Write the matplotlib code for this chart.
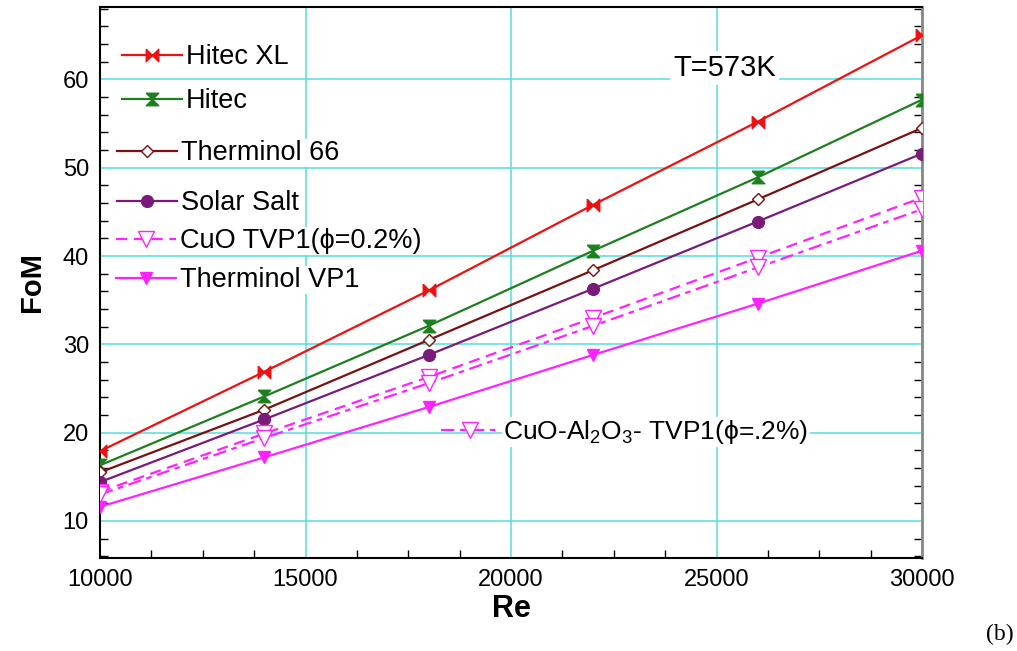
import numpy as np
import matplotlib
matplotlib.use("Agg")
from matplotlib import pyplot as plt
from matplotlib.ticker import MultipleLocator

plt.rcParams['font.family'] = ['Liberation Sans', 'DejaVu Sans']
plt.rcParams['mathtext.fontset'] = 'custom'
plt.rcParams['mathtext.rm'] = 'Liberation Sans'
plt.rcParams['mathtext.it'] = 'Liberation Sans:italic'
plt.rcParams['mathtext.default'] = 'regular'

# data (T = 573 K)
re = [10000, 14000, 18000, 22000, 26000, 30000]
hitec_xl = [17.9, 26.9, 36.1, 45.8, 55.2, 65.0]
hitec = [16.3, 24.1, 32.1, 40.6, 48.9, 57.7]
therminol_66 = [15.5, 22.6, 30.5, 38.4, 46.4, 54.5]
solar_salt = [14.4, 21.5, 28.8, 36.3, 43.9, 51.6]
cuo_tvp1 = [13.3, 19.9, 26.3, 33.0, 39.8, 46.6]
cuo_al2o3_tvp1 = [13.0, 19.4, 25.6, 32.1, 38.7, 45.3]
therminol_vp1 = [11.6, 17.2, 22.9, 28.8, 34.6, 40.6]

# custom markers
bowtie = [(-1, 1), (0, 0), (1, 1), (1, -1), (0, 0), (-1, -1), (-1, 1)]
hourglass = [(-1, 1), (1, 1), (0, 0), (1, -1), (-1, -1), (0, 0), (-1, 1)]

RED = '#ee1111'
GREEN = '#1e7f1e'
MAROON = '#7a1010'
PURPLE = '#7a1a7a'
MAG = '#ff22ff'

fig = plt.figure(figsize=(10.17, 6.51), dpi=100)
ax = fig.add_axes([100/1017, 93/651, 822/1017, 551/651])

series = [
    (hitec_xl, 'Hitec XL', dict(color=RED, marker=bowtie, ms=9, mfc=RED, ls='-')),
    (hitec, 'Hitec', dict(color=GREEN, marker=hourglass, ms=9, mfc=GREEN, ls='-')),
    (therminol_66, 'Therminol 66', dict(color=MAROON, marker='D', ms=6.5, mfc='white', mew=1.0, ls='-')),
    (solar_salt, 'Solar Salt', dict(color=PURPLE, marker='o', ms=8.5, mfc=PURPLE, ls='-')),
    (cuo_tvp1, 'CuO TVP1(ϕ=0.2%)', dict(color=MAG, marker='v', ms=11, mfc='white', mew=1.0, ls=(0, (5, 3)))),
    (therminol_vp1, 'Therminol VP1', dict(color=MAG, marker='v', ms=9, mfc=MAG, ls='-')),
]

handles = []
for ys, lab, kw in series:
    h, = ax.plot(re, ys, lw=1.6, zorder=3, **kw)
    handles.append(h)

h2, = ax.plot(re, cuo_al2o3_tvp1, color=MAG, marker='v', ms=11, mfc='white', mew=1.0,
              ls=(0, (6, 2.5, 2.5, 2.5)), lw=1.6, zorder=3)

ax.set_xlim(10000, 30000)
ax.set_ylim(5.8, 68.2)
ax.xaxis.set_major_locator(MultipleLocator(5000))
ax.xaxis.set_minor_locator(MultipleLocator(1250))
ax.yaxis.set_major_locator(MultipleLocator(10))
ax.yaxis.set_minor_locator(MultipleLocator(2))
ax.set_yticks([10, 20, 30, 40, 50, 60])
ax.grid(True, which='major', color='#55dddd', lw=1.1, zorder=0)
ax.set_axisbelow(True)

ax.tick_params(which='both', direction='in', top=False, right=True, labelsize=17, colors='black')
ax.tick_params(which='major', length=0, pad=8)
ax.tick_params(which='minor', length=6, width=1.0)
for s in ['left', 'bottom', 'top']:
    ax.spines[s].set_linewidth(1.5)
ax.spines['right'].set_color('#888888')
ax.spines['right'].set_linewidth(2)

ax.set_xlabel('Re', fontsize=22, fontweight='bold', labelpad=2)
ax.set_ylabel('FoM', fontsize=21, fontweight='bold', labelpad=12)

# legend entries placed one by one (pixel spots as in the reference)
entry_px = [(122, 57), (122, 101), (117, 153), (117, 203), (116, 241), (116, 280)]
for (h, (_, lab, _)), (px, py) in zip(zip(handles, series), entry_px):
    lg = ax.legend([h], [lab], loc='center left',
                   bbox_to_anchor=((px - 100) / 822, (558 - py) / 551),
                   frameon=False, fontsize=19.5, handlelength=2.2, handletextpad=0.15,
                   borderpad=0, borderaxespad=0)
    for t in lg.get_texts():
        t.set_bbox(dict(facecolor='white', edgecolor='none', pad=1))
    ax.add_artist(lg)

leg2 = ax.legend([h2], ['CuO-Al$_2$O$_3$- TVP1(ϕ=.2%)'], loc='center left',
                 bbox_to_anchor=(0.415, 0.229), frameon=False, fontsize=19,
                 handlelength=2.2, handletextpad=0.15, borderpad=0, borderaxespad=0)
for t in leg2.get_texts():
    t.set_bbox(dict(facecolor='white', edgecolor='none', pad=1))

ax.text(0.76, 0.89, 'T=573K', transform=ax.transAxes, fontsize=21,
        ha='center', va='center', bbox=dict(facecolor='white', edgecolor='none', pad=2))

fig.text(0.983, 0.025, '(b)', fontsize=17, family='Liberation Serif', ha='center', va='center')

fig.savefig('out.png', dpi=100)
